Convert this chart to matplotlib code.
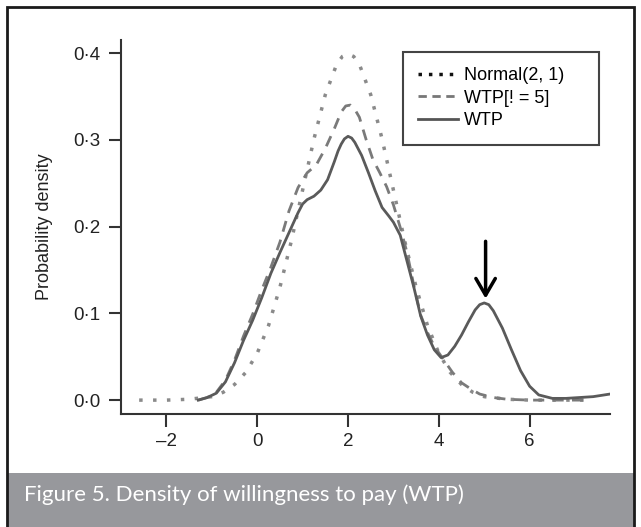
import matplotlib
matplotlib.use('Agg')
import matplotlib.pyplot as plt
from matplotlib.patches import Rectangle

# density curves
wtp_x = [-1.3, -1.1, -0.9, -0.7, -0.5, -0.3, -0.1, 0.1, 0.3, 0.5, 0.7, 0.9, 1.0, 1.1,
         1.25, 1.4, 1.55, 1.7, 1.78, 1.85, 1.92, 2.0, 2.08, 2.15, 2.22, 2.3, 2.45, 2.6,
         2.75, 2.9, 3.0, 3.15, 3.3, 3.45, 3.6, 3.75, 3.9, 4.05, 4.2, 4.35, 4.5, 4.65,
         4.8, 4.9, 5.0, 5.1, 5.2, 5.4, 5.6, 5.8, 6.0, 6.2, 6.5, 6.8, 7.1, 7.4, 7.77]
wtp_y = [0.0, 0.003, 0.008, 0.021, 0.043, 0.069, 0.092, 0.118, 0.146, 0.170, 0.193,
         0.216, 0.226, 0.231, 0.235, 0.242, 0.254, 0.275, 0.287, 0.295, 0.301, 0.304,
         0.302, 0.297, 0.290, 0.282, 0.262, 0.241, 0.222, 0.212, 0.205, 0.190, 0.160,
         0.130, 0.097, 0.075, 0.058, 0.049, 0.052, 0.062, 0.075, 0.090, 0.104, 0.110,
         0.112, 0.110, 0.103, 0.083, 0.058, 0.034, 0.016, 0.006, 0.002, 0.002, 0.003,
         0.004, 0.007]

wtp5_x = [-1.3, -1.1, -0.9, -0.7, -0.5, -0.3, -0.1, 0.1, 0.3, 0.5, 0.7, 0.9, 1.1, 1.3,
          1.5, 1.7, 1.85, 1.95, 2.05, 2.15, 2.25, 2.4, 2.55, 2.7, 2.85, 3.0, 3.15, 3.3,
          3.45, 3.6, 3.75, 3.9, 4.1, 4.3, 4.5, 4.7, 4.9, 5.2, 5.5, 6.0, 6.5, 7.0, 7.35]
wtp5_y = [0.0, 0.003, 0.009, 0.023, 0.046, 0.074, 0.099, 0.127, 0.153, 0.182, 0.218,
          0.245, 0.262, 0.271, 0.290, 0.313, 0.332, 0.339, 0.340, 0.335, 0.326, 0.300,
          0.277, 0.262, 0.246, 0.225, 0.199, 0.170, 0.132, 0.098, 0.078, 0.062, 0.047,
          0.032, 0.020, 0.013, 0.007, 0.003, 0.001, 0.0, 0.0, 0.0, 0.0]

norm_x = [-2.6, -2.0, -1.5, -1.0, -0.75, -0.5, -0.25, 0.0, 0.25, 0.5, 0.75, 1.0, 1.25,
          1.5, 1.75, 1.875, 2.0, 2.125, 2.25, 2.5, 2.75, 3.0, 3.25, 3.5, 3.75, 4.0,
          4.25, 4.5, 4.75, 5.0, 5.5, 6.0, 6.5, 7.0, 7.35]
norm_y = [0.0, 0.0, 0.001, 0.004, 0.009, 0.018, 0.032, 0.054, 0.086, 0.130, 0.183,
          0.242, 0.301, 0.352, 0.387, 0.396, 0.399, 0.396, 0.387, 0.352, 0.301, 0.242,
          0.183, 0.130, 0.086, 0.054, 0.032, 0.018, 0.009, 0.004, 0.001, 0.0, 0.0, 0.0,
          0.0]

xticks = [-2, 0, 2, 4, 6]
xtick_labels = ['\u20132', '0', '2', '4', '6']
yticks = [0.0, 0.1, 0.2, 0.3, 0.4]
ytick_labels = ['0\u00b70', '0\u00b71', '0\u00b72', '0\u00b73', '0\u00b74']

arrow_x = 5.03
arrow_top = 0.183
arrow_tip = 0.117

caption = 'Figure 5. Density of willingness to pay (WTP)'

plt.rcParams['font.family'] = ['Liberation Sans', 'DejaVu Sans']

W, H = 641, 527
fig = plt.figure(figsize=(W / 100, H / 100), dpi=100)

# outer frame and caption band
fig.patches.append(Rectangle((7 / W, 0), 627 / W, (H - 473) / H, transform=fig.transFigure,
                             facecolor='#97989c', edgecolor='none', zorder=0))
fig.patches.append(Rectangle((7 / W, -0.05), 627 / W, (H - 7) / H + 0.05, transform=fig.transFigure,
                             facecolor='none', edgecolor='#1a1a1a', linewidth=2, zorder=1))
fig.text(24 / W, 1 - 495 / H, caption, color='white', fontsize=16, family='Lato', va='center')

ax = fig.add_axes([121 / W, 1 - 414 / H, 489 / W, 374 / H])
ax.plot(norm_x, norm_y, color='#8a8a8a', lw=2.5, linestyle=(0, (1, 3)), label='Normal(2, 1)')
ax.plot(wtp5_x, wtp5_y, color='#7a7a7a', lw=2, linestyle=(0, (4, 3)), label='WTP[! = 5]')
ax.plot(wtp_x, wtp_y, color='#5a5a5a', lw=2, label='WTP')

ax.annotate('', xy=(arrow_x, arrow_tip), xytext=(arrow_x, arrow_top),
            arrowprops=dict(arrowstyle='->,head_length=0.6,head_width=0.35', color='black',
                            lw=2.5, mutation_scale=20, shrinkA=0, shrinkB=0))

ax.set_xlim(-3, 7.77)
ax.set_ylim(-0.016, 0.415)
ax.set_xticks(xticks)
ax.set_xticklabels(xtick_labels)
ax.set_yticks(yticks)
ax.set_yticklabels(ytick_labels)
ax.tick_params(direction='out', length=9, width=1.5, color='#333333', labelsize=13.5,
               labelcolor='#222222')
ax.tick_params(axis='y', pad=6)
ax.tick_params(axis='x', pad=5)
for s in ['top', 'right']:
    ax.spines[s].set_visible(False)
for s in ['left', 'bottom']:
    ax.spines[s].set_linewidth(1.5)
    ax.spines[s].set_color('#333333')
ax.set_ylabel('Probability density', fontsize=13, color='#222222')
ax.yaxis.set_label_coords(-0.139, 0.5)

leg_handles = [
    plt.Line2D([], [], color='#111111', lw=2.5, linestyle=(0, (1, 2))),
    plt.Line2D([], [], color='#777777', lw=2, linestyle=(0, (3, 2))),
    plt.Line2D([], [], color='#555555', lw=2),
]
leg = ax.legend(leg_handles, ['Normal(2, 1)', 'WTP[! = 5]', 'WTP'],
                bbox_to_anchor=(403 / W, 1 - 147 / H, 196 / W, 95 / H),
                bbox_transform=fig.transFigure, loc='upper left', mode='expand',
                borderaxespad=0, fontsize=13, handlelength=2.2, handletextpad=0.35,
                labelspacing=0.3, borderpad=0.85, fancybox=False, framealpha=1)
leg.get_frame().set_edgecolor('#444444')
leg.get_frame().set_linewidth(1.5)

fig.savefig('out.png', dpi=100)
